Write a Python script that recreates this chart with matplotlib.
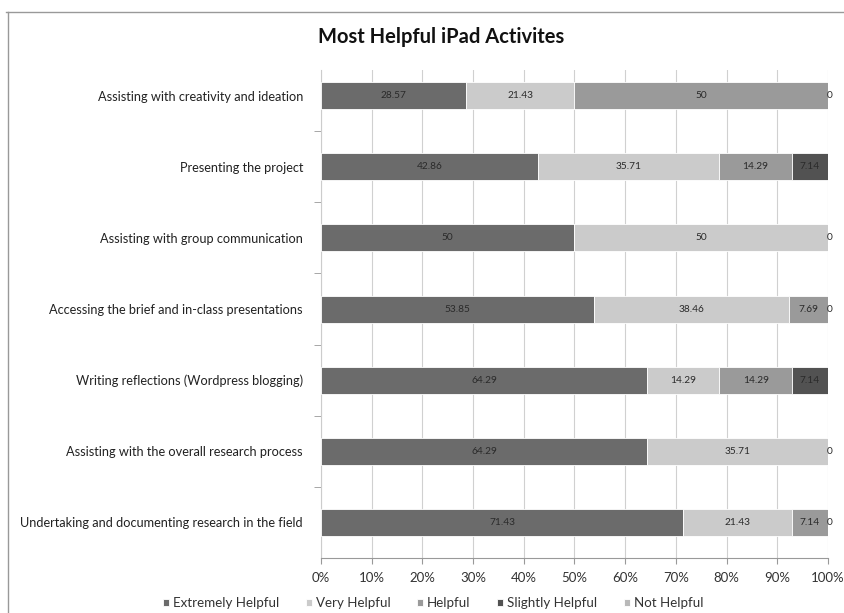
import numpy as np
import matplotlib.pyplot as plt
from matplotlib.lines import Line2D

plt.rcParams['font.family'] = ['Lato', 'DejaVu Sans']

activities = [
    "Assisting with creativity and ideation",
    "Presenting the project",
    "Assisting with group communication",
    "Accessing the brief and in-class presentations",
    "Writing reflections (Wordpress blogging)",
    "Assisting with the overall research process",
    "Undertaking and documenting research in the field",
]
series = ["Extremely Helpful", "Very Helpful", "Helpful", "Slightly Helpful", "Not Helpful"]
extremely = [28.57, 42.86, 50, 53.85, 64.29, 64.29, 71.43]
very = [21.43, 35.71, 50, 38.46, 14.29, 35.71, 21.43]
helpful = [50, 14.29, 0, 7.69, 14.29, 0, 7.14]
slightly = [0, 7.14, 0, 0, 7.14, 0, 0]
not_helpful = [0, 0, 0, 0, 0, 0, 0]
# which zero values still get a "0" label in the original
zero_label = [True, False, True, True, False, True, True]

colors = ["#6b6b6b", "#cbcbcb", "#9a9a9a", "#525252", "#b9b9b9"]

fig = plt.figure(figsize=(8.45, 6.13), dpi=100)
ax = fig.add_axes([321/845, 1-558/613, 507/845, 488/613])

y = np.arange(len(activities))
left = np.zeros(len(activities))
vals = [extremely, very, helpful, slightly, not_helpful]
for name, v, c in zip(series, vals, colors):
    v = np.array(v, dtype=float)
    ax.barh(y, v, left=left, height=0.38, color=c, edgecolor='white',
            linewidth=0.6, label=name, zorder=3)
    for i in range(len(y)):
        if v[i] > 0:
            txt = f"{v[i]:g}" if v[i] == int(v[i]) else f"{v[i]:.2f}"
            ax.text(left[i] + v[i]/2, y[i], txt, ha='center', va='center',
                    fontsize=7.3, color='#2a2a2a', zorder=4)
    left += v

for i in range(len(y)):
    if zero_label[i]:
        ax.text(100.35, y[i], "0", ha='center', va='center', fontsize=7.3,
                color='#2a2a2a', zorder=4)

ax.set_xlim(0, 100)
ax.set_ylim(6.5, -0.36)
ax.set_xticks(np.arange(0, 101, 10))
ax.set_xticklabels([f"{t}%" for t in range(0, 101, 10)], fontsize=9.5, color='#333333')
ax.set_yticks(y)
ax.set_yticklabels(activities, fontsize=9.2, color='#222222')
ax.tick_params(axis='y', length=0, pad=13)
ax.tick_params(axis='x', length=4, color='#999999', pad=6)
ax.set_yticks(np.arange(0.5, 6.5, 1), minor=True)
ax.tick_params(axis='y', which='minor', length=5, color='#999999')
ax.grid(axis='x', color='#d0d0d0', linewidth=0.8, zorder=0)
for s in ['top', 'right']:
    ax.spines[s].set_visible(False)
ax.spines['left'].set_color('#cccccc')
ax.spines['bottom'].set_color('#999999')

fig.text(441/845, 1-37/613, "Most Helpful iPad Activites", ha='center', va='center',
         fontsize=14.5, fontweight='bold', color='#111111')

fig.legend(loc='center', bbox_to_anchor=(433/845, 1-603/613), ncol=5, frameon=False,
           fontsize=9.6, handlelength=0.45, handleheight=0.45, handletextpad=0.3,
           columnspacing=2.0, labelcolor='#333333')

fig.add_artist(Line2D([6/845, 1], [1-12/613, 1-12/613], color='#999999', linewidth=1))
fig.add_artist(Line2D([8/845, 8/845], [0, 1-12/613], color='#999999', linewidth=1))

fig.savefig("out.png", dpi=100)
